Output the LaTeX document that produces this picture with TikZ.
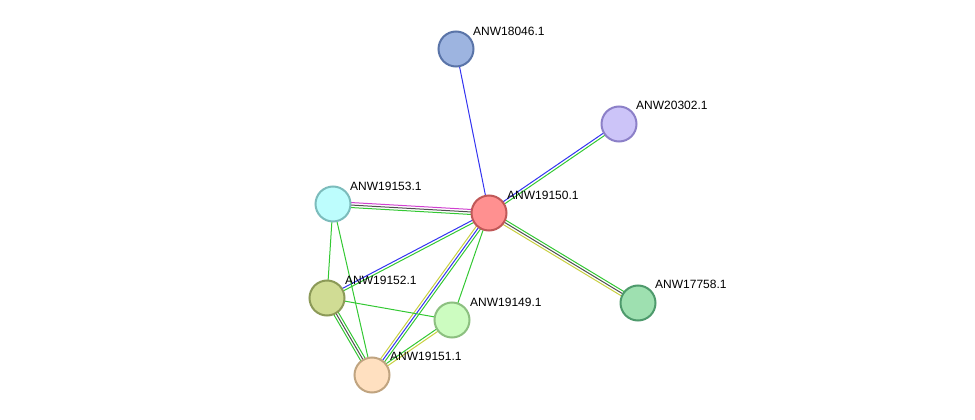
\documentclass[tikz,border=0pt]{standalone}
\usepackage{fontspec}
\setmainfont{Liberation Sans}
\usetikzlibrary{calc}
\tikzset{
  prot/.style={circle,minimum size=35pt,inner sep=0pt,line width=2pt},
  lab/.style={anchor=south west,font=\fontsize{12pt}{13pt}\selectfont,inner sep=1pt},
  ed/.style={line width=1pt}
}
\definecolor{cG}{HTML}{33C833}
\definecolor{cB}{HTML}{3333F0}
\definecolor{cY}{HTML}{C8D040}
\definecolor{cK}{HTML}{505050}
\definecolor{cM}{HTML}{D040D0}
% \medge{a}{b}{offset}{color}
\newcommand\medge[4]{\draw[ed,#4] ($(#1)!#3!90:(#2)$) -- ($(#2)!#3!-90:(#1)$);}
\begin{document}
\begin{tikzpicture}[x=1pt,y=-1pt]
\useasboundingbox (0,0) rectangle (975,420);
\coordinate (n18046) at (456,49);
\coordinate (n20302) at (619,124);
\coordinate (n19153) at (333,204);
\coordinate (n19150) at (489,213);
\coordinate (n17758) at (638,303);
\coordinate (n19152) at (327,298);
\coordinate (n19149) at (452,320);
\coordinate (n19151) at (372,375);
% edges
\medge{n19150}{n18046}{0pt}{cB}
\medge{n19150}{n20302}{1.3pt}{cB}\medge{n19150}{n20302}{-1.3pt}{cG}
\medge{n19150}{n17758}{2.5pt}{cG}\medge{n19150}{n17758}{0pt}{cK}\medge{n19150}{n17758}{-2.5pt}{cY}
\medge{n19150}{n19153}{-2.5pt}{cM}\medge{n19150}{n19153}{0pt}{cK}\medge{n19150}{n19153}{2.5pt}{cG}
\medge{n19150}{n19152}{-1.3pt}{cB}\medge{n19150}{n19152}{1.3pt}{cG}
\medge{n19150}{n19151}{-2.5pt}{cY}\medge{n19150}{n19151}{0pt}{cB}\medge{n19150}{n19151}{2.5pt}{cG}
\medge{n19150}{n19149}{0pt}{cG}
\medge{n19153}{n19152}{0pt}{cG}
\medge{n19153}{n19151}{0pt}{cG}
\medge{n19152}{n19149}{0pt}{cG}
\medge{n19152}{n19151}{-2.5pt}{cG}\medge{n19152}{n19151}{0pt}{cK}\medge{n19152}{n19151}{2.5pt}{cG}
\medge{n19149}{n19151}{1.3pt}{cY}\medge{n19149}{n19151}{-1.3pt}{cG}
% nodes
\node[prot,fill={rgb,255:red,157;green,180;blue,224},draw={rgb,255:red,90;green,116;blue,168}] (a) at (n18046) {};
\node[prot,fill={rgb,255:red,204;green,196;blue,248},draw={rgb,255:red,140;green,128;blue,200}] (b) at (n20302) {};
\node[prot,fill={rgb,255:red,189;green,253;blue,253},draw={rgb,255:red,124;green,188;blue,188}] (c) at (n19153) {};
\node[prot,fill={rgb,255:red,255;green,144;blue,144},draw={rgb,255:red,192;green,88;blue,88}] (d) at (n19150) {};
\node[prot,fill={rgb,255:red,158;green,224;blue,176},draw={rgb,255:red,78;green,154;blue,108}] (e) at (n17758) {};
\node[prot,fill={rgb,255:red,208;green,220;blue,148},draw={rgb,255:red,140;green,154;blue,88}] (f) at (n19152) {};
\node[prot,fill={rgb,255:red,204;green,252;blue,192},draw={rgb,255:red,140;green,192;blue,128}] (g) at (n19149) {};
\node[prot,fill={rgb,255:red,255;green,224;blue,192},draw={rgb,255:red,192;green,164;blue,128}] (h) at (n19151) {};
% labels
\node[lab] (la) at (472,37) {ANW18046.1};
\node[lab] (lb) at (635,111) {ANW20302.1};
\node[lab] (lc) at (349,192) {ANW19153.1};
\node[lab] (ld) at (506,201) {ANW19150.1};
\node[lab] (le) at (654,290) {ANW17758.1};
\node[lab] (lf) at (344,286) {ANW19152.1};
\node[lab] (lg) at (469,308) {ANW19149.1};
\node[lab] (lh) at (389,362) {ANW19151.1};
\end{tikzpicture}
\end{document}
